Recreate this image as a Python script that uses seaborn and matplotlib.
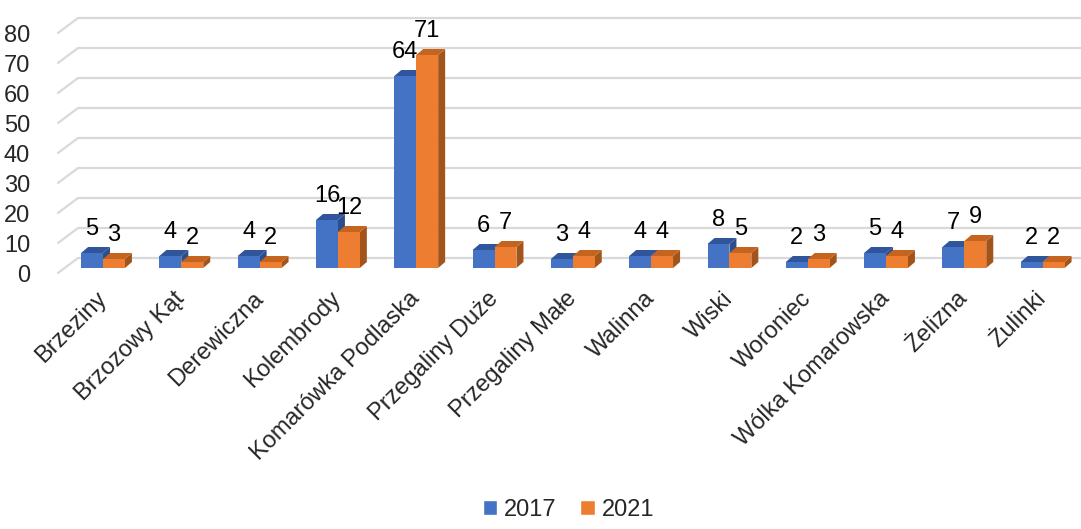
import numpy as np
import pandas as pd
import seaborn as sns
import matplotlib.pyplot as plt
from matplotlib.patches import Polygon, Patch

# Data
places = ["Brzeziny", "Brzozowy Kąt", "Derewiczna", "Kolembrody", "Komarówka Podlaska",
          "Przegaliny Duże", "Przegaliny Małe", "Walinna", "Wiski", "Woroniec",
          "Wólka Komarowska", "Żelizna", "Żulinki"]
years = ["2017", "2021"]
v2017 = [5, 4, 4, 16, 64, 6, 3, 4, 8, 2, 5, 7, 2]
v2021 = [3, 2, 2, 12, 71, 7, 4, 4, 5, 3, 4, 9, 2]

df = pd.DataFrame({
    "place": places * 2,
    "year": [years[0]] * len(places) + [years[1]] * len(places),
    "value": v2017 + v2021,
})

front_cols = {"2017": "#4472C4", "2021": "#ED7D31"}
top_cols = {"2017": "#30559A", "2021": "#C4641F"}
side_cols = {"2017": "#2C4E8C", "2021": "#A3541B"}

sns.set_theme(style="white")
plt.rcParams["font.family"] = ["Liberation Sans", "DejaVu Sans"]
FS = 17

DPI = 100
fig = plt.figure(figsize=(10.81, 5.29), dpi=DPI)
W, H = 1081, 529
ax = fig.add_axes([58 / W, 1 - 273 / H, (W - 58) / W, (273 - 33) / H])

sns.barplot(data=df, x="place", y="value", hue="year", palette=front_cols,
            width=0.56, gap=0, saturation=1, linewidth=0, errorbar=None,
            ax=ax, legend=False, zorder=3)

ax.set_ylim(0, 80)
ax.set_xlim(-0.575, 12.49)
ax.set_yticks(np.arange(0, 81, 10))
ax.set_xlabel("")
ax.set_ylabel("")
sns.despine(ax=ax, left=True, bottom=True)
ax.grid(False)
ax.tick_params(axis="y", length=0, pad=20, labelsize=FS)
ax.tick_params(axis="x", length=0, pad=16, labelsize=FS)
plt.setp(ax.get_xticklabels(), rotation=45, ha="right", va="center",
         rotation_mode="anchor")

inv = ax.transData.inverted()

# pseudo-3D back wall grid: diagonal on the left, then the back line
gx, gy = 20, 15
x_left = ax.transAxes.transform((0, 0))[0]
for t in ax.get_yticks():
    yf = ax.transData.transform((0, t))[1]
    pts = inv.transform([(x_left, yf), (x_left + gx, yf + gy), (W + 5, yf + gy)])
    ax.plot(pts[:, 0], pts[:, 1], color="#d9d9d9", lw=1.6, zorder=1,
            clip_on=False, solid_joinstyle="miter")

# 3D faces on bars
lift = 5       # bars stand a bit behind the front edge
dx, dy = 7, 6  # bar depth
for k, (cont, yr) in enumerate(zip(ax.containers, years)):
    vals = v2017 if yr == "2017" else v2021
    for bar, val in zip(cont, vals):
        x0, y0 = bar.get_x(), bar.get_y()
        x1, y1 = x0 + bar.get_width(), y0 + bar.get_height()
        (X0, Y0), (X1, Y1) = ax.transData.transform([(x0, y0), (x1, y1)])
        Y0 += lift
        Y1 += lift
        front = inv.transform([(X0, Y0), (X1, Y0), (X1, Y1), (X0, Y1)])
        top = inv.transform([(X0, Y1), (X1, Y1), (X1 + dx, Y1 + dy), (X0 + dx, Y1 + dy)])
        side = inv.transform([(X1, Y0), (X1 + dx, Y0 + dy), (X1 + dx, Y1 + dy), (X1, Y1)])
        z = 3 + k
        bar.set_visible(False)
        ax.add_patch(Polygon(side, closed=True, facecolor=side_cols[yr], lw=0, zorder=z))
        ax.add_patch(Polygon(top, closed=True, facecolor=top_cols[yr], lw=0, zorder=z))
        ax.add_patch(Polygon(front, closed=True, facecolor=front_cols[yr], lw=0, zorder=z))
        lx, ly = inv.transform([((X0 + X1) / 2, Y1 + 13)])[0]
        ax.text(lx, ly, str(val), ha="center", va="bottom", fontsize=FS,
                color="black", zorder=6)

# legend
handles = [Patch(facecolor=front_cols[y], label=y) for y in years]
fig.legend(handles=handles, loc="lower center", bbox_to_anchor=(0.526, -0.025),
           ncol=2, frameon=False, fontsize=FS, handlelength=0.6, handleheight=0.6,
           handletextpad=0.3, columnspacing=1.0)

fig.savefig("out.png", dpi=DPI)
